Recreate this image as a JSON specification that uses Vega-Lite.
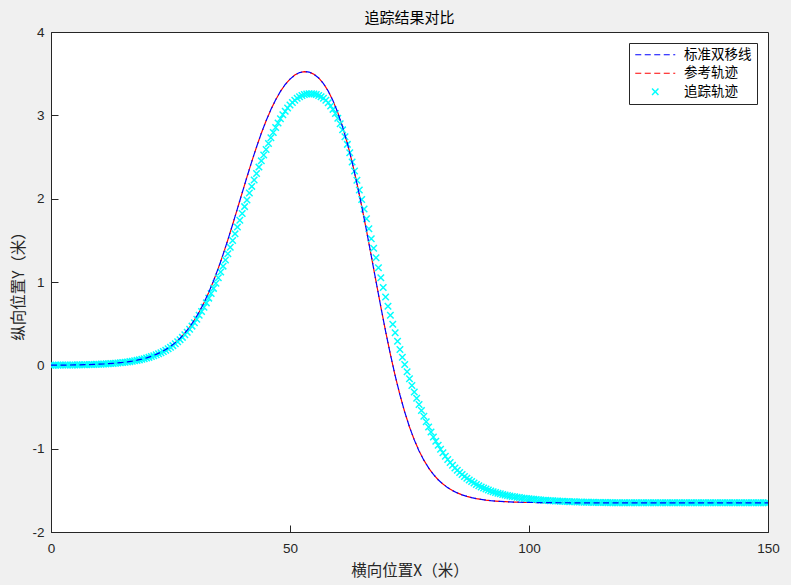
{
"$schema": "https://vega.github.io/schema/vega-lite/v6.json",
"width": 717, "height": 500,
"autosize": {"type": "none"},
"padding": {"left": 51, "top": 32, "right": 23, "bottom": 53},
"background": "#f0f0f0",
"title": {"text": "追踪结果对比", "font": "Noto Sans CJK SC", "fontSize": 15, "fontWeight": "normal", "color": "#000000", "offset": -1, "anchor": "middle"},
"config": {
  "view": {"fill": "#ffffff", "stroke": "#262626", "strokeWidth": 1},
  "axis": {"grid": false, "domainColor": "#262626", "tickColor": "#262626", "labelColor": "#262626", "titleColor": "#262626", "labelFont": "Liberation Sans", "labelFontSize": 13.5, "titleFont": "Noto Sans CJK SC", "titleFontSize": 15.5, "titleFontWeight": "normal", "tickSize": -7, "domainWidth": 1, "tickWidth": 1, "labelFlush": false, "labelOverlap": false}
},
"datasets": {
"ref": [
{"x":0,"y":0.0020},{"x":1,"y":0.0024},{"x":2,"y":0.0029},{"x":3,"y":0.0035},{"x":4,"y":0.0043},{"x":5,"y":0.0052},{"x":6,"y":0.0063},{"x":7,"y":0.0076},{"x":8,"y":0.0092},{"x":9,"y":0.0111},
{"x":10,"y":0.0135},{"x":11,"y":0.0163},{"x":12,"y":0.0198},{"x":13,"y":0.0239},{"x":14,"y":0.0289},{"x":15,"y":0.0349},{"x":16,"y":0.0423},{"x":17,"y":0.0511},{"x":18,"y":0.0618},{"x":19,"y":0.0746},
{"x":20,"y":0.0901},{"x":21,"y":0.1087},{"x":22,"y":0.1311},{"x":23,"y":0.1576},{"x":24,"y":0.1895},{"x":25,"y":0.2273},{"x":26,"y":0.2721},{"x":27,"y":0.3250},{"x":28,"y":0.3871},{"x":29,"y":0.4596},
{"x":30,"y":0.5437},{"x":31,"y":0.6404},{"x":32,"y":0.7507},{"x":33,"y":0.8750},{"x":34,"y":1.0134},{"x":35,"y":1.1656},{"x":36,"y":1.3298},{"x":37,"y":1.5061},{"x":38,"y":1.6902},{"x":39,"y":1.8797},
{"x":40,"y":2.0712},{"x":41,"y":2.2609},{"x":42,"y":2.4451},{"x":43,"y":2.6205},{"x":44,"y":2.7844},{"x":45,"y":2.9344},{"x":46,"y":3.0688},{"x":47,"y":3.1865},{"x":48,"y":3.2870},{"x":49,"y":3.3701},
{"x":50,"y":3.4353},{"x":51,"y":3.4831},{"x":52,"y":3.5131},{"x":53,"y":3.5254},{"x":54,"y":3.5193},{"x":55,"y":3.4940},{"x":56,"y":3.4484},{"x":57,"y":3.3811},{"x":58,"y":3.2905},{"x":59,"y":3.1748},
{"x":60,"y":3.0324},{"x":61,"y":2.8622},{"x":62,"y":2.6636},{"x":63,"y":2.4372},{"x":64,"y":2.1848},{"x":65,"y":1.9102},{"x":66,"y":1.6182},{"x":67,"y":1.3139},{"x":68,"y":1.0062},{"x":69,"y":0.7022},
{"x":70,"y":0.4087},{"x":71,"y":0.1319},{"x":72,"y":-0.1236},{"x":73,"y":-0.3548},{"x":74,"y":-0.5602},{"x":75,"y":-0.7398},{"x":76,"y":-0.8947},{"x":77,"y":-1.0268},{"x":78,"y":-1.1382},{"x":79,"y":-1.2312},
{"x":80,"y":-1.3087},{"x":81,"y":-1.3726},{"x":82,"y":-1.4248},{"x":83,"y":-1.4676},{"x":84,"y":-1.5026},{"x":85,"y":-1.5310},{"x":86,"y":-1.5539},{"x":87,"y":-1.5726},{"x":88,"y":-1.5876},{"x":89,"y":-1.5997},
{"x":90,"y":-1.6096},{"x":91,"y":-1.6175},{"x":92,"y":-1.6239},{"x":93,"y":-1.6290},{"x":94,"y":-1.6331},{"x":95,"y":-1.6364},{"x":96,"y":-1.6391},{"x":97,"y":-1.6412},{"x":98,"y":-1.6429},{"x":99,"y":-1.6444},
{"x":100,"y":-1.6454},{"x":101,"y":-1.6463},{"x":102,"y":-1.6470},{"x":103,"y":-1.6476},{"x":104,"y":-1.6481},{"x":105,"y":-1.6485},{"x":106,"y":-1.6488},{"x":107,"y":-1.6490},{"x":108,"y":-1.6492},{"x":109,"y":-1.6494},
{"x":110,"y":-1.6495},{"x":115,"y":-1.6498},{"x":120,"y":-1.6499},{"x":125,"y":-1.65},{"x":130,"y":-1.65},{"x":135,"y":-1.65},{"x":140,"y":-1.65},{"x":145,"y":-1.65},{"x":150,"y":-1.65}
],
"trk": [
{"x":0,"y":0.0019},{"x":0.5,"y":0.0021},{"x":1,"y":0.0023},{"x":1.5,"y":0.0025},{"x":2,"y":0.0028},{"x":2.5,"y":0.0031},{"x":3,"y":0.0034},{"x":3.5,"y":0.0037},{"x":4,"y":0.0041},{"x":4.5,"y":0.0046},
{"x":5,"y":0.0050},{"x":5.5,"y":0.0055},{"x":6,"y":0.0061},{"x":6.5,"y":0.0067},{"x":7,"y":0.0073},{"x":7.5,"y":0.0081},{"x":8,"y":0.0089},{"x":8.5,"y":0.0098},{"x":9,"y":0.0107},{"x":9.5,"y":0.0118},
{"x":10,"y":0.0130},{"x":10.5,"y":0.0143},{"x":11,"y":0.0157},{"x":11.5,"y":0.0173},{"x":12,"y":0.0191},{"x":12.5,"y":0.0210},{"x":13,"y":0.0230},{"x":13.5,"y":0.0253},{"x":14,"y":0.0278},{"x":14.5,"y":0.0306},
{"x":15,"y":0.0336},{"x":15.5,"y":0.0369},{"x":16,"y":0.0407},{"x":16.5,"y":0.0447},{"x":17,"y":0.0492},{"x":17.5,"y":0.0541},{"x":18,"y":0.0595},{"x":18.5,"y":0.0654},{"x":19,"y":0.0718},{"x":19.5,"y":0.0789},
{"x":20,"y":0.0870},{"x":20.5,"y":0.0957},{"x":21,"y":0.1050},{"x":21.5,"y":0.1152},{"x":22,"y":0.1262},{"x":22.5,"y":0.1383},{"x":23,"y":0.1512},{"x":23.5,"y":0.1656},{"x":24,"y":0.1812},{"x":24.5,"y":0.1982},
{"x":25,"y":0.2167},{"x":25.5,"y":0.2367},{"x":26,"y":0.2587},{"x":26.5,"y":0.2822},{"x":27,"y":0.3081},{"x":27.5,"y":0.3356},{"x":28,"y":0.3660},{"x":28.5,"y":0.3980},{"x":29,"y":0.4335},{"x":29.5,"y":0.4705},
{"x":30,"y":0.5117},{"x":30.5,"y":0.5534},{"x":31,"y":0.6000},{"x":31.5,"y":0.6459},{"x":32,"y":0.6978},{"x":32.5,"y":0.7496},{"x":33,"y":0.8066},{"x":33.5,"y":0.8626},{"x":34,"y":0.9234},{"x":34.5,"y":0.9857},
{"x":35,"y":1.0515},{"x":35.5,"y":1.1199},{"x":36,"y":1.1902},{"x":36.5,"y":1.2641},{"x":37,"y":1.3386},{"x":37.5,"y":1.4180},{"x":38,"y":1.4973},{"x":38.5,"y":1.5779},{"x":39,"y":1.6589},{"x":39.5,"y":1.7414},
{"x":40,"y":1.8229},{"x":40.5,"y":1.9046},{"x":41,"y":1.9850},{"x":41.5,"y":2.0674},{"x":42,"y":2.1471},{"x":42.5,"y":2.2249},{"x":43,"y":2.3014},{"x":43.5,"y":2.3788},{"x":44,"y":2.4539},{"x":44.5,"y":2.5230},
{"x":45,"y":2.5910},{"x":45.5,"y":2.6620},{"x":46,"y":2.7300},{"x":46.5,"y":2.7930},{"x":47,"y":2.8530},{"x":47.5,"y":2.9080},{"x":48,"y":2.9590},{"x":48.5,"y":3.0060},{"x":49,"y":3.0500},{"x":49.5,"y":3.0890},
{"x":50,"y":3.1240},{"x":50.5,"y":3.1550},{"x":51,"y":3.1820},{"x":51.5,"y":3.2050},{"x":52,"y":3.2240},{"x":52.5,"y":3.2390},{"x":53,"y":3.2500},{"x":53.5,"y":3.2570},{"x":54,"y":3.2600},{"x":54.5,"y":3.2595},
{"x":55,"y":3.2560},{"x":55.5,"y":3.2490},{"x":56,"y":3.2385},{"x":56.5,"y":3.2230},{"x":57,"y":3.2046},{"x":57.5,"y":3.1800},{"x":58,"y":3.1502},{"x":58.5,"y":3.1130},{"x":59,"y":3.0715},{"x":59.5,"y":3.0210},
{"x":60,"y":2.9647},{"x":60.5,"y":2.8990},{"x":61,"y":2.8259},{"x":61.5,"y":2.7430},{"x":62,"y":2.6516},{"x":62.5,"y":2.5500},{"x":63,"y":2.4400},{"x":63.5,"y":2.3310},{"x":64,"y":2.2200},{"x":64.5,"y":2.1050},
{"x":65,"y":1.9900},{"x":65.5,"y":1.8750},{"x":66,"y":1.7600},{"x":66.5,"y":1.6400},{"x":67,"y":1.5200},{"x":67.5,"y":1.4050},{"x":68,"y":1.2900},{"x":68.5,"y":1.1700},{"x":69,"y":1.0500},{"x":69.5,"y":0.9350},
{"x":70,"y":0.8200},{"x":70.5,"y":0.7090},{"x":71,"y":0.6000},{"x":71.5,"y":0.4940},{"x":72,"y":0.3900},{"x":72.5,"y":0.2890},{"x":73,"y":0.1900},{"x":73.5,"y":0.0980},{"x":74,"y":0.0100},{"x":74.5,"y":-0.0760},
{"x":75,"y":-0.1600},{"x":75.5,"y":-0.2410},{"x":76,"y":-0.3200},{"x":76.5,"y":-0.3960},{"x":77,"y":-0.4700},{"x":77.5,"y":-0.5410},{"x":78,"y":-0.6100},{"x":78.5,"y":-0.6760},{"x":79,"y":-0.7400},{"x":79.5,"y":-0.8010},
{"x":80,"y":-0.8600},{"x":80.5,"y":-0.9110},{"x":81,"y":-0.9600},{"x":81.5,"y":-1.0060},{"x":82,"y":-1.0500},{"x":82.5,"y":-1.0910},{"x":83,"y":-1.1300},{"x":83.5,"y":-1.1660},{"x":84,"y":-1.2000},{"x":84.5,"y":-1.2310},
{"x":85,"y":-1.2600},{"x":85.5,"y":-1.2860},{"x":86,"y":-1.3100},{"x":86.5,"y":-1.3330},{"x":87,"y":-1.3550},{"x":87.5,"y":-1.3760},{"x":88,"y":-1.3950},{"x":88.5,"y":-1.4130},{"x":89,"y":-1.4300},{"x":89.5,"y":-1.4460},
{"x":90,"y":-1.4600},{"x":90.5,"y":-1.4730},{"x":91,"y":-1.4850},{"x":91.5,"y":-1.4960},{"x":92,"y":-1.5070},{"x":92.5,"y":-1.5170},{"x":93,"y":-1.5260},{"x":93.5,"y":-1.5340},{"x":94,"y":-1.5420},{"x":94.5,"y":-1.5490},
{"x":95,"y":-1.5560},{"x":95.5,"y":-1.5620},{"x":96,"y":-1.5680},{"x":96.5,"y":-1.5730},{"x":97,"y":-1.5780},{"x":97.5,"y":-1.5830},{"x":98,"y":-1.5870},{"x":98.5,"y":-1.5910},{"x":99,"y":-1.5950},{"x":99.5,"y":-1.5990},
{"x":100,"y":-1.6020},{"x":100.5,"y":-1.6050},{"x":101,"y":-1.6080},{"x":101.5,"y":-1.6110},{"x":102,"y":-1.6130},{"x":102.5,"y":-1.6160},{"x":103,"y":-1.6180},{"x":103.5,"y":-1.6200},{"x":104,"y":-1.6220},{"x":104.5,"y":-1.6240},
{"x":105,"y":-1.6260},{"x":105.5,"y":-1.6280},{"x":106,"y":-1.6290},{"x":106.5,"y":-1.6310},{"x":107,"y":-1.6320},{"x":107.5,"y":-1.6340},{"x":108,"y":-1.6350},{"x":108.5,"y":-1.6360},{"x":109,"y":-1.6370},{"x":109.5,"y":-1.6380},
{"x":110,"y":-1.6390},{"x":110.5,"y":-1.6400},{"x":111,"y":-1.6410},{"x":111.5,"y":-1.6420},{"x":112,"y":-1.6430},{"x":112.5,"y":-1.6435},{"x":113,"y":-1.6440},{"x":113.5,"y":-1.6445},{"x":114,"y":-1.6450},{"x":114.5,"y":-1.6455},
{"x":115,"y":-1.6460},{"x":115.5,"y":-1.6465},{"x":116,"y":-1.6470},{"x":116.5,"y":-1.6473},{"x":117,"y":-1.6476},{"x":117.5,"y":-1.6479},{"x":118,"y":-1.6482},{"x":118.5,"y":-1.6485},{"x":119,"y":-1.6488},{"x":119.5,"y":-1.6490},
{"x":120,"y":-1.6492},{"x":120.5,"y":-1.6493},{"x":121,"y":-1.6494},{"x":121.5,"y":-1.6494},{"x":122,"y":-1.6495},{"x":122.5,"y":-1.6495},{"x":123,"y":-1.6495},{"x":123.5,"y":-1.6496},{"x":124,"y":-1.6496},{"x":124.5,"y":-1.6496},
{"x":125,"y":-1.6496},{"x":125.5,"y":-1.6497},{"x":126,"y":-1.6497},{"x":126.5,"y":-1.6497},{"x":127,"y":-1.6497},{"x":127.5,"y":-1.6497},{"x":128,"y":-1.6497},{"x":128.5,"y":-1.6498},{"x":129,"y":-1.6498},{"x":129.5,"y":-1.6498},
{"x":130,"y":-1.6498},{"x":130.5,"y":-1.6498},{"x":131,"y":-1.6498},{"x":131.5,"y":-1.6498},{"x":132,"y":-1.6498},{"x":132.5,"y":-1.6499},{"x":133,"y":-1.6499},{"x":133.5,"y":-1.6499},{"x":134,"y":-1.6499},{"x":134.5,"y":-1.6499},
{"x":135,"y":-1.6499},{"x":135.5,"y":-1.6499},{"x":136,"y":-1.6499},{"x":136.5,"y":-1.6499},{"x":137,"y":-1.6499},{"x":137.5,"y":-1.6499},{"x":138,"y":-1.6499},{"x":138.5,"y":-1.6499},{"x":139,"y":-1.6499},{"x":139.5,"y":-1.6499},
{"x":140,"y":-1.65},{"x":140.5,"y":-1.65},{"x":141,"y":-1.65},{"x":141.5,"y":-1.65},{"x":142,"y":-1.65},{"x":142.5,"y":-1.65},{"x":143,"y":-1.65},{"x":143.5,"y":-1.65},{"x":144,"y":-1.65},{"x":144.5,"y":-1.65},
{"x":145,"y":-1.65},{"x":145.5,"y":-1.65},{"x":146,"y":-1.65},{"x":146.5,"y":-1.65},{"x":147,"y":-1.65},{"x":147.5,"y":-1.65},{"x":148,"y":-1.65},{"x":148.5,"y":-1.65},{"x":149,"y":-1.65},{"x":149.5,"y":-1.65},
{"x":150,"y":-1.65}
]
},
"layer": [
{
  "data": {"name": "ref"},
  "mark": {"type": "line", "strokeWidth": 1.2, "strokeDash": [6, 3.5], "strokeDashOffset": 4.75, "clip": true},
  "encoding": {
    "x": {"field": "x", "type": "quantitative", "scale": {"domain": [0, 150], "nice": false, "zero": false},
          "axis": {"values": [0, 50, 100, 150], "title": "横向位置X（米）", "labelPadding": 16, "titlePadding": 9}},
    "y": {"field": "y", "type": "quantitative", "scale": {"domain": [-2, 4], "nice": false, "zero": false},
          "axis": {"values": [-2, -1, 0, 1, 2, 3, 4], "title": "纵向位置Y（米）", "labelPadding": 14, "titlePadding": 5, "labelExpr": "'' + datum.value"}},
    "color": {"datum": "参考轨迹", "type": "nominal",
      "scale": {"domain": ["标准双移线", "参考轨迹", "追踪轨迹"], "range": ["#0000ff", "#ff0000", "#00ffff"]},
      "legend": {"orient": "none", "legendX": 578, "legendY": 11, "title": null, "direction": "vertical",
        "padding": 5, "strokeColor": "#262626", "fillColor": "#ffffff", "cornerRadius": 0,
        "symbolSize": 64, "symbolStrokeWidth": 1.2, "symbolOffset": 14.5, "labelOffset": 22,
        "labelFont": "Noto Sans CJK SC", "labelFontSize": 13.5, "labelColor": "#000000", "rowPadding": 3.5,
        "encode": {"symbols": {"update": {
          "shape": {"signal": "datum.value === '追踪轨迹' ? 'M-0.8,-0.8L0.8,0.8M0.8,-0.8L-0.8,0.8' : 'M-5,0L5,0'"},
          "strokeDash": {"signal": "datum.value === '追踪轨迹' ? [1,0] : [6,3.5]"},
          "strokeWidth": {"signal": "datum.value === '追踪轨迹' ? 1.5 : 1.2"},
          "fill": {"value": "transparent"}
        }}}}
    }
  }
},
{
  "data": {"name": "trk"},
  "mark": {"type": "point", "shape": "M-1,-1L1,1M1,-1L-1,1", "filled": false, "size": 42, "strokeWidth": 1.5, "opacity": 1, "clip": true},
  "encoding": {
    "x": {"field": "x", "type": "quantitative"},
    "y": {"field": "y", "type": "quantitative"},
    "color": {"datum": "追踪轨迹", "type": "nominal"}
  }
},
{
  "data": {"name": "ref"},
  "mark": {"type": "line", "strokeWidth": 1.2, "strokeDash": [6, 3.5], "clip": true},
  "encoding": {
    "x": {"field": "x", "type": "quantitative"},
    "y": {"field": "y", "type": "quantitative"},
    "color": {"datum": "标准双移线", "type": "nominal"}
  }
}
]
}
